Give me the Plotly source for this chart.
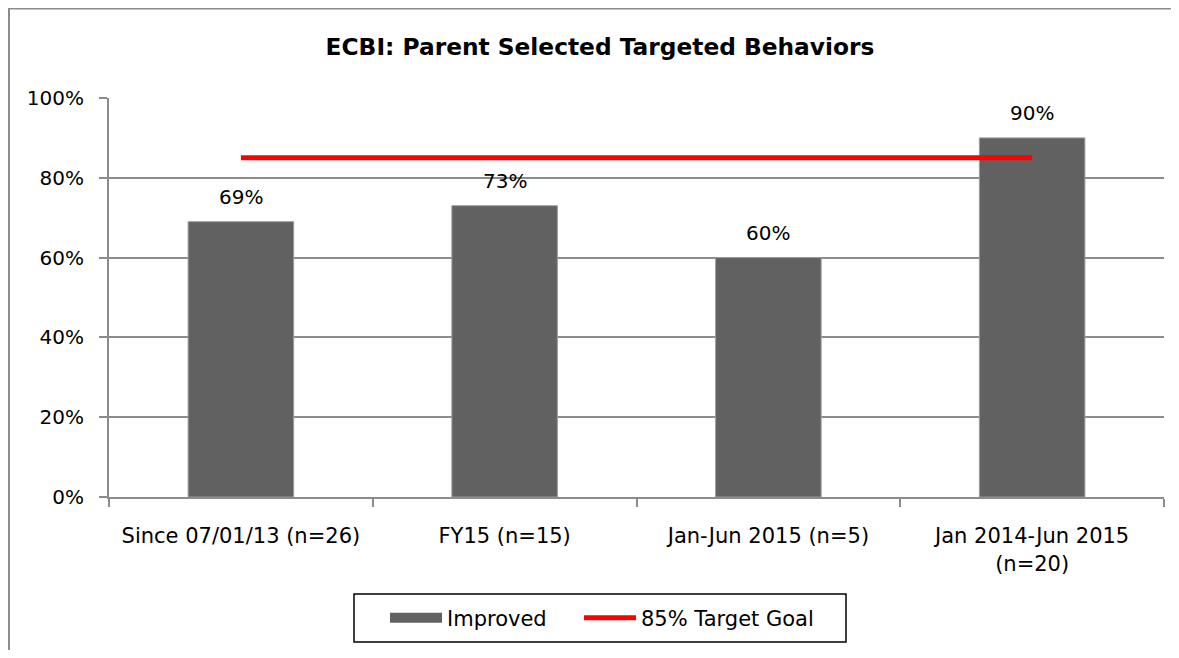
import plotly.graph_objects as go

categories = ["Since 07/01/13 (n=26)", "FY15 (n=15)", "Jan-Jun 2015 (n=5)", "Jan 2014-Jun 2015<br>(n=20)"]
improved = [0.69, 0.73, 0.60, 0.90]
improved_labels = ["69%", "73%", "60%", "90%"]
target = [0.85, 0.85, 0.85, 0.85]
y_ticks = [0, 0.2, 0.4, 0.6, 0.8, 1.0]
y_tick_labels = ["0%", "20%", "40%", "60%", "80%", "100%"]

OFF = 8  # page body margin
W, H = 1179 - 2 * OFF, 658 - 2 * OFF
L, R, T, B = 109 - OFF, W - (1164 - OFF), 98 - OFF, H - (497 - OFF)
pw, ph = W - L - R, H - T - B


def px(xp):  # page x -> paper x
    return (xp - OFF - L) / pw


def py(yp):  # page y -> paper y
    return 1 - (yp - OFF - T) / ph


FONT = "'DejaVu Sans', sans-serif"
BAR = "#616161"

fig = go.Figure()
fig.add_trace(go.Bar(
    x=categories, y=improved, name="Improved",
    marker=dict(color=BAR, line=dict(color="#9a9a9a", width=1)),
    width=0.4, showlegend=False,
))
# legend proxy for the bar series (wide rectangle like the original)
fig.add_trace(go.Scatter(
    x=[None], y=[None], name="Improved", mode="lines",
    line=dict(color=BAR, width=15), legend="legend",
))
fig.add_trace(go.Scatter(
    x=categories, y=target, name="85% Target Goal",
    mode="lines", line=dict(color="#ff0000", width=5), legend="legend2",
))

for c, v, t in zip(categories, improved, improved_labels):
    fig.add_annotation(x=c, y=v, text=t, showarrow=False,
                       yanchor="middle", yshift=25,
                       font=dict(size=20, family=FONT, color="#000000"))

legend_common = dict(orientation="h", xanchor="left", yanchor="middle",
                     y=py(618), bgcolor="rgba(0,0,0,0)", borderwidth=0,
                     font=dict(size=21, family=FONT), itemwidth=52)

fig.update_layout(
    width=W, height=H,
    margin=dict(l=L, r=R, t=T, b=B, autoexpand=False),
    paper_bgcolor="white", plot_bgcolor="white",
    font=dict(family=FONT, size=20, color="#000000"),
    title=dict(text="<b>ECBI: Parent Selected Targeted Behaviors</b>",
               xref="container", x=(600 - OFF) / W, xanchor="center",
               yref="container", y=1 - (47 - OFF) / H, yanchor="middle",
               font=dict(size=23.3, family=FONT)),
    bargap=0.6,
    showlegend=True,
    legend=dict(x=px(385), **legend_common),
    legend2=dict(x=px(579), **legend_common),
    xaxis=dict(showline=True, linecolor="#8c8c8c", linewidth=2,
               ticks="outside", tickson="boundaries", ticklen=8,
               tickcolor="#8c8c8c", tickwidth=2, showgrid=False,
               automargin=False, ticklabelstandoff=19,
               tickfont=dict(size=21, family=FONT)),
    yaxis=dict(range=[0, 1], tickvals=y_ticks, ticktext=y_tick_labels,
               showline=True, linecolor="#8c8c8c", linewidth=2,
               ticks="outside", ticklen=8, tickcolor="#8c8c8c", tickwidth=2,
               showgrid=True, gridcolor="#8c8c8c", gridwidth=1.5,
               zeroline=False, automargin=False, ticklabelstandoff=11,
               tickfont=dict(size=20, family=FONT)),
)

# outer chart border (left and top edges visible)
bx0, by0, by1, bx1 = px(9), py(700), py(8.5), px(1200)
fig.add_shape(type="path", xref="paper", yref="paper",
              path=f"M {bx0},{by0} L {bx0},{by1} L {bx1},{by1}",
              line=dict(color="#8c8c8c", width=2), layer="below")
# legend box
fig.add_shape(type="rect", xref="paper", yref="paper",
              x0=px(354), x1=px(846), y0=py(642), y1=py(594),
              line=dict(color="#000000", width=1.5), layer="above")

fig.write_html("out.html")
